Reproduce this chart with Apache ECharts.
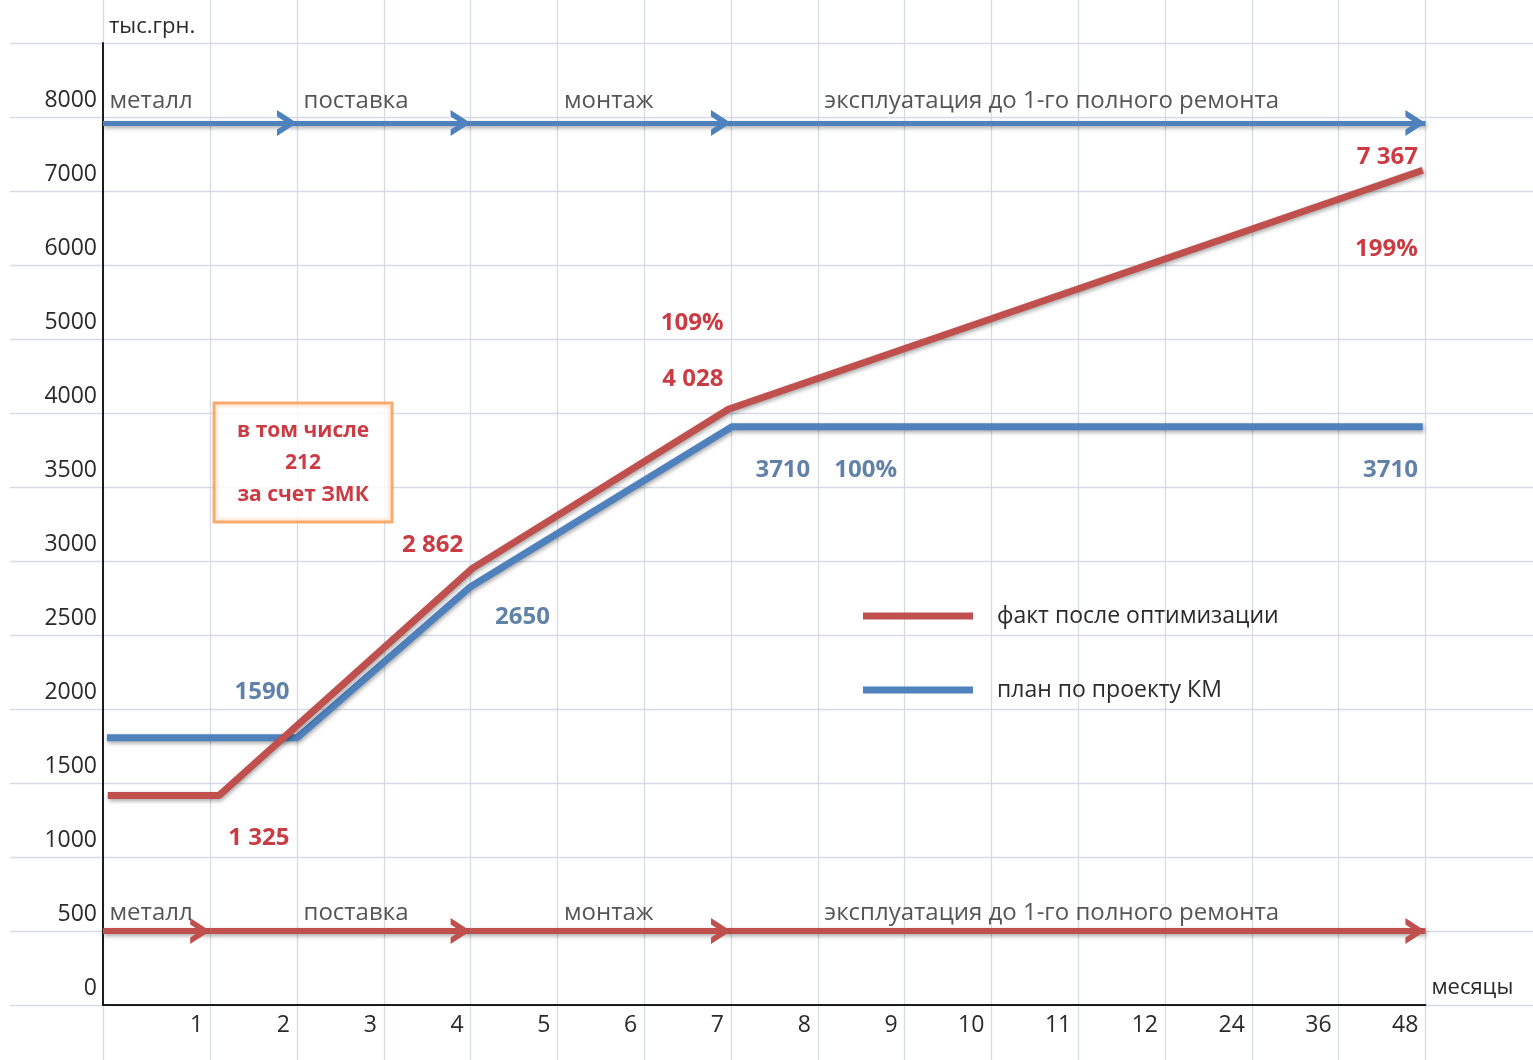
<!DOCTYPE html>
<html><head><meta charset="utf-8">
<script src="https://cdn.jsdelivr.net/npm/echarts@6/dist/echarts.min.js"></script>
<style>html,body{margin:0;padding:0;background:#fff}#c{width:1533px;height:1060px}</style>
</head><body><div id="c"></div>
<script>
// ---------- data ----------
const yTickValues = [0, 500, 1000, 1500, 2000, 2500, 3000, 3500, 4000, 5000, 6000, 7000, 8000];
const xTickLabels = ['1','2','3','4','5','6','7','8','9','10','11','12','24','36','48'];
const seriesNames = ['факт после оптимизации', 'план по проекту КМ'];
// x in month-slot index (1 = month 1 ... 15 = month 48), y in тыс.грн. (as drawn)
const factX = [-0.18, 1.1, 4.02, 6.97, 14.97];
const factY = [1415, 1415, 2950, 4050, 7280];
const planX = [-0.19, 2.0, 3.99, 7.01, 14.97];
const planY = [1805, 1805, 2822, 3907, 3907];
const phaseNames = ['металл', 'поставка', 'монтаж', 'эксплуатация до 1-го полного ремонта'];
const planPhaseBounds = ['0', '2', '4', '7', '48'];
const factPhaseBounds = ['0', '1', '4', '7', '48'];
const factLabels = ['1 325', '2 862', '4 028', '7 367'];
const factPctLabels = ['109%', '199%'];
const planLabels = ['1590', '2650', '3710', '3710'];
const planPctLabel = '100%';
const noteLines = ['в том числе', '212', 'за счет ЗМК'];
const yAxisName = 'тыс.грн.';
const xAxisName = 'месяцы';

// ---------- style / layout ----------
const RED = '#C0504D', BLUE = '#4F81BD';
const RED_TXT = '#BE0A14', BLUE_TXT = '#386192';
const GRID = '#d6dae5', AXIS = '#1c1c1c', TXT = '#2a2a2a', ORANGE = '#F79646';
const FONT = 'Open Sans';
const X0 = -0.235;                 // slot position of the value axis
const ROW_PX = 74, SLOT_PX = 86.8;
function slotOf(m) { return m === '0' ? X0 : xTickLabels.indexOf(m) + 1; }
function toAxisY(v) {
  for (let i = 0; i < yTickValues.length - 1; i++) {
    const a = yTickValues[i], b = yTickValues[i + 1];
    if (v <= b) return i + (v - a) / (b - a);
  }
  return yTickValues.length - 1;
}
const SHADOW = { shadowBlur: 4, shadowColor: 'rgba(0,0,0,0.35)', shadowOffsetX: 1, shadowOffsetY: 2 };
const CHEVRON = 'path://M0,18L10,0L20,18L15,18L10,9L5,18Z';

function arrowMarkLine(bounds, row, color, width) {
  const data = [];
  for (let i = 0; i < bounds.length - 1; i++) {
    data.push([{ coord: [slotOf(bounds[i]), row] }, { coord: [slotOf(bounds[i + 1]), row] }]);
  }
  return {
    silent: true, animation: false,
    symbol: ['none', CHEVRON], symbolSize: [26, 20], symbolOffset: [[0, 0], [0, 10]],
    label: { show: false },
    lineStyle: Object.assign({ color: color, width: width, type: 'solid' }, SHADOW),
    emphasis: { disabled: true },
    data: data
  };
}

const TOP_ROW = toAxisY(7920), BOTTOM_ROW = toAxisY(500);
const PHASE_LABEL_COLS = ['0', '2', '5', '8'];

const ann = [];
function addR(text, x, y, color) { ann.push({ text, x, y, pos: 'left', color, bold: true, size: 24 }); }
function addL(text, x, y) { ann.push({ text, x, y, pos: 'right', color: TXT, bold: false, size: 24 }); }
addR(factLabels[0], 2, 2.25, RED_TXT);
addR(factLabels[1], 4, 6.22, RED_TXT);
addR(factLabels[2], 7, 8.455, RED_TXT);
addR(factLabels[3], 15, 11.455, RED_TXT);
addR(factPctLabels[0], 7, 9.21, RED_TXT);
addR(factPctLabels[1], 15, 10.21, RED_TXT);
addR(planLabels[0], 2, 4.23, BLUE_TXT);
addR(planLabels[1], 5, 5.24, BLUE_TXT);
addR(planLabels[2], 8, 7.23, BLUE_TXT);
addR(planLabels[3], 15, 7.23, BLUE_TXT);
addR(planPctLabel, 9, 7.23, BLUE_TXT);
phaseNames.forEach((p, i) => {
  addL(p, slotOf(PHASE_LABEL_COLS[i]), 12.22);
  addL(p, slotOf(PHASE_LABEL_COLS[i]), 1.24);
});

const annData = ann.map(a => ({
  value: [a.x, a.y],
  label: {
    show: true, formatter: a.text, position: a.pos, distance: a.pos === 'right' ? 6 : 7,
    color: a.color, fontSize: a.size, fontWeight: a.bold ? 'bold' : 'normal', fontFamily: FONT
  }
}));
annData.push({
  value: [2.07, 7.33],
  label: {
    show: true, position: 'inside', formatter: noteLines.join('\n'),
    color: RED_TXT, fontSize: 21, fontWeight: 'bold', fontFamily: FONT, lineHeight: 32,
    align: 'center', verticalAlign: 'middle',
    width: 175, padding: [10, 0], backgroundColor: '#fff', borderColor: ORANGE, borderWidth: 3
  }
});

const gridX = [X0].concat(xTickLabels.map((_, i) => i + 1));
const gridY = yTickValues.map((_, i) => i).concat([yTickValues.length]);

const chart = echarts.init(document.getElementById('c'));
chart.setOption({
  animation: false,
  backgroundColor: '#fff',
  textStyle: { fontFamily: FONT },
  grid: [
    { left: 10, right: 0, top: 0, bottom: 0 },
    { left: 103, right: 107.6, top: 43, bottom: 55 }
  ],
  xAxis: [
    { gridIndex: 0, type: 'value', min: X0 - 93 / SLOT_PX, max: 15 + 107.6 / SLOT_PX,
      axisLine: { show: false }, axisTick: { show: false, customValues: gridX }, axisLabel: { show: false },
      splitLine: { show: true, lineStyle: { color: GRID, width: 1.3 } } },
    { gridIndex: 1, type: 'value', min: X0, max: 15,
      axisLine: { show: true, onZero: false, lineStyle: { color: AXIS, width: 2 } },
      axisTick: { show: false },
      axisLabel: { customValues: xTickLabels.map((_, i) => i + 1),
        formatter: v => xTickLabels[Math.round(v) - 1] || '',
        align: 'right', padding: [0, 7, 0, 0], margin: 8, lineHeight: 24, fontSize: 23, color: TXT },
      splitLine: { show: false },
      name: xAxisName, nameLocation: 'end', nameGap: 6,
      nameTextStyle: { align: 'left', verticalAlign: 'bottom', padding: [0, 0, 6, 0], fontSize: 22, color: TXT } }
  ],
  yAxis: [
    { gridIndex: 0, type: 'value', min: -55 / ROW_PX, max: 1005 / ROW_PX,
      axisLine: { show: false }, axisTick: { show: false, customValues: gridY }, axisLabel: { show: false },
      splitLine: { show: true, lineStyle: { color: GRID, width: 1.3 } } },
    { gridIndex: 1, type: 'value', min: 0, max: 13, interval: 1,
      axisLine: { show: true, onZero: false, lineStyle: { color: AXIS, width: 2 } },
      axisTick: { show: false },
      axisLabel: { formatter: v => (v < yTickValues.length ? String(yTickValues[v]) : ''),
        verticalAlign: 'bottom', padding: [0, 0, 5, 0], lineHeight: 24, margin: 6, fontSize: 23, color: TXT },
      splitLine: { show: false },
      name: yAxisName, nameLocation: 'end', nameGap: 16,
      nameTextStyle: { align: 'left', verticalAlign: 'middle', padding: [0, 0, 0, 6], fontSize: 22, color: TXT } }
  ],
  legend: {
    data: seriesNames, orient: 'vertical', left: 863, top: 601, icon: 'rect', padding: 0,
    itemWidth: 110, itemHeight: 7, itemGap: 44,
    textStyle: { fontSize: 23, lineHeight: 30, color: TXT, padding: [0, 0, 0, 19] }
  },
  series: [
    { name: seriesNames[1], type: 'line', xAxisIndex: 1, yAxisIndex: 1, symbol: 'none', z: 5,
      data: planX.map((x, i) => [x, toAxisY(planY[i])]),
      itemStyle: { color: BLUE },
      lineStyle: Object.assign({ color: BLUE, width: 7 }, SHADOW),
      markLine: arrowMarkLine(planPhaseBounds, TOP_ROW, BLUE, 5) },
    { name: seriesNames[0], type: 'line', xAxisIndex: 1, yAxisIndex: 1, symbol: 'none', z: 6,
      data: factX.map((x, i) => [x, toAxisY(factY[i])]),
      itemStyle: { color: RED },
      lineStyle: Object.assign({ color: RED, width: 7 }, SHADOW),
      markLine: arrowMarkLine(factPhaseBounds, BOTTOM_ROW, RED, 6) },
    { type: 'scatter', xAxisIndex: 1, yAxisIndex: 1, symbol: 'circle', symbolSize: 1, silent: true, z: 8,
      itemStyle: { color: 'rgba(0,0,0,0)' }, data: annData }
  ]
});
</script></body></html>
